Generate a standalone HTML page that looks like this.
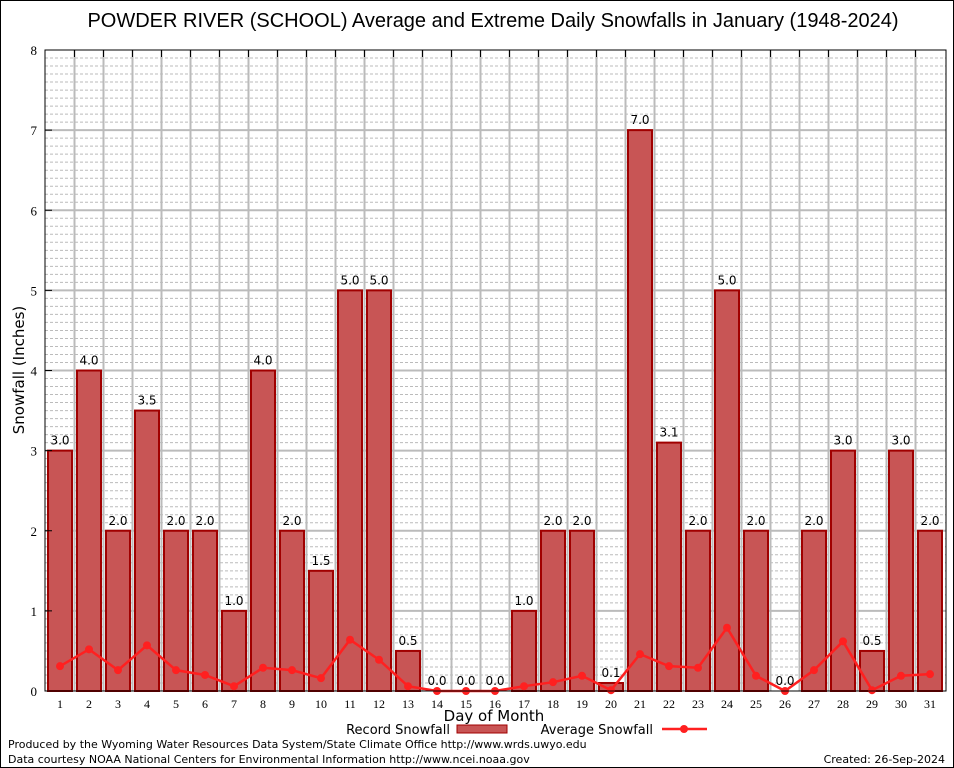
<!DOCTYPE html>
<html><head><meta charset="utf-8"><style>
body{margin:0;background:#fff}
svg{display:block;font-family:"DejaVu Sans","Liberation Sans",sans-serif}
</style></head><body>
<svg id="chart" width="954" height="768" viewBox="0 0 954 768">
<rect x="0.5" y="0.5" width="953" height="767" fill="#fff" stroke="#000"/>
<text x="493" y="27" font-size="20" text-anchor="middle" font-family="Liberation Sans, sans-serif">POWDER RIVER (SCHOOL) Average and Extreme Daily Snowfalls in January (1948-2024)</text>
<g id="grid"></g>
<g id="bars"></g>
<g id="line"></g>
<rect x="45" y="50" width="901" height="641" fill="none" stroke="#000"/>
<g id="axes"></g>
<text x="24" y="370" font-size="15" text-anchor="middle" transform="rotate(-90 24 370)">Snowfall (Inches)</text>
<text x="494" y="721" font-size="15" text-anchor="middle">Day of Month</text>
<g>
<text x="450" y="734" font-size="13" text-anchor="end">Record Snowfall</text>
<rect x="457" y="725" width="50" height="8" fill="#c85555" stroke="#a00000"/>
<text x="653" y="734" font-size="13" text-anchor="end">Average Snowfall</text>
<line x1="662" y1="729" x2="707" y2="729" stroke="#ff2020" stroke-width="2.5"/>
<circle cx="684" cy="729" r="4" fill="#ff2020"/>
</g>
<text x="8" y="748" font-size="11">Produced by the Wyoming Water Resources Data System/State Climate Office http://www.wrds.uwyo.edu</text>
<text x="8" y="763" font-size="11">Data courtesy NOAA National Centers for Environmental Information http://www.ncei.noaa.gov</text>
<text x="945" y="763" font-size="11" text-anchor="end">Created: 26-Sep-2024</text>
</svg>
<script>
const days=[1,2,3,4,5,6,7,8,9,10,11,12,13,14,15,16,17,18,19,20,21,22,23,24,25,26,27,28,29,30,31];
const recordVals=[3.0,4.0,2.0,3.5,2.0,2.0,1.0,4.0,2.0,1.5,5.0,5.0,0.5,0.0,0.0,0.0,1.0,2.0,2.0,0.1,7.0,3.1,2.0,5.0,2.0,0.0,2.0,3.0,0.5,3.0,2.0];
const avgVals=[0.31,0.52,0.26,0.57,0.26,0.2,0.06,0.29,0.26,0.16,0.64,0.39,0.06,0,0,0,0.06,0.11,0.19,0.01,0.46,0.31,0.29,0.79,0.19,0,0.26,0.62,0.01,0.19,0.21];
const yTicks=[0,1,2,3,4,5,6,7,8];
const NS="http://www.w3.org/2000/svg";
const L=45,R=946,T=50,B=691;
function xs(d){return 60+(d-1)*29;}
function ys(v){return B-(v/8)*(B-T);}
function mk(tag,attrs,parent){const e=document.createElementNS(NS,tag);for(const k in attrs)e.setAttribute(k,attrs[k]);parent.appendChild(e);return e;}
const grid=document.getElementById('grid'),bars=document.getElementById('bars'),line=document.getElementById('line'),axes=document.getElementById('axes');
for(let i=1;i<80;i++){
  if(i%10===0)continue;
  const y=ys(i/10);
  const g=mk('line',{x1:L,x2:R,y1:y,y2:y,stroke:'#bbb','stroke-dasharray':'3,2','stroke-width':1},grid);
  
  
}
yTicks.forEach(v=>{
  const y=ys(v);
  if(v>0&&v<8){const g=mk('line',{x1:L,x2:R,y1:y,y2:y,stroke:'#bbb','stroke-width':2},grid);
  
  }
  const t=mk('text',{x:37,y:y+5,'font-size':13,'text-anchor':'end','font-family':'Liberation Serif, serif'},axes);
  t.textContent=v;
  
  
  const tk=mk('line',{x1:L,x2:L+7,y1:y,y2:y,stroke:'#000'},axes);
  
  
});
for(let d=1;d<31;d++){
  const x=xs(d)+14.5;
  const g=mk('line',{x1:x,x2:x,y1:T,y2:B,stroke:'#bbb','stroke-width':2},grid);
  
  
  const tk=mk('line',{x1:x,x2:x,y1:T,y2:T+7,stroke:'#000'},axes);
  
  
}
days.forEach((d,i)=>{
  const v=recordVals[i],x=xs(d),y=ys(v);
  if(v>0){
    const r=mk('rect',{x:x-12,y:y,width:24,height:B-y,fill:'#c85555',stroke:'#a00000','stroke-width':2},bars);
    
    
  }
  const t=mk('text',{x:x,y:y-6,'font-size':12,'text-anchor':'middle'},bars);
  t.textContent=v.toFixed(1);
  
  
  const xl=mk('text',{x:x,y:708,'font-size':12,'text-anchor':'middle','font-family':'Liberation Serif, serif'},axes);
  xl.textContent=d;
  
  
});
const pts=days.map((d,i)=>xs(d)+','+ys(avgVals[i])).join(' ');
const pl=mk('polyline',{points:pts,fill:'none',stroke:'#ff2020','stroke-width':2.5},line);


days.forEach((d,i)=>{
  const c=mk('circle',{cx:xs(d),cy:ys(avgVals[i]),r:4,fill:'#ff2020'},line);
  
  
});
</script>
</body></html>
